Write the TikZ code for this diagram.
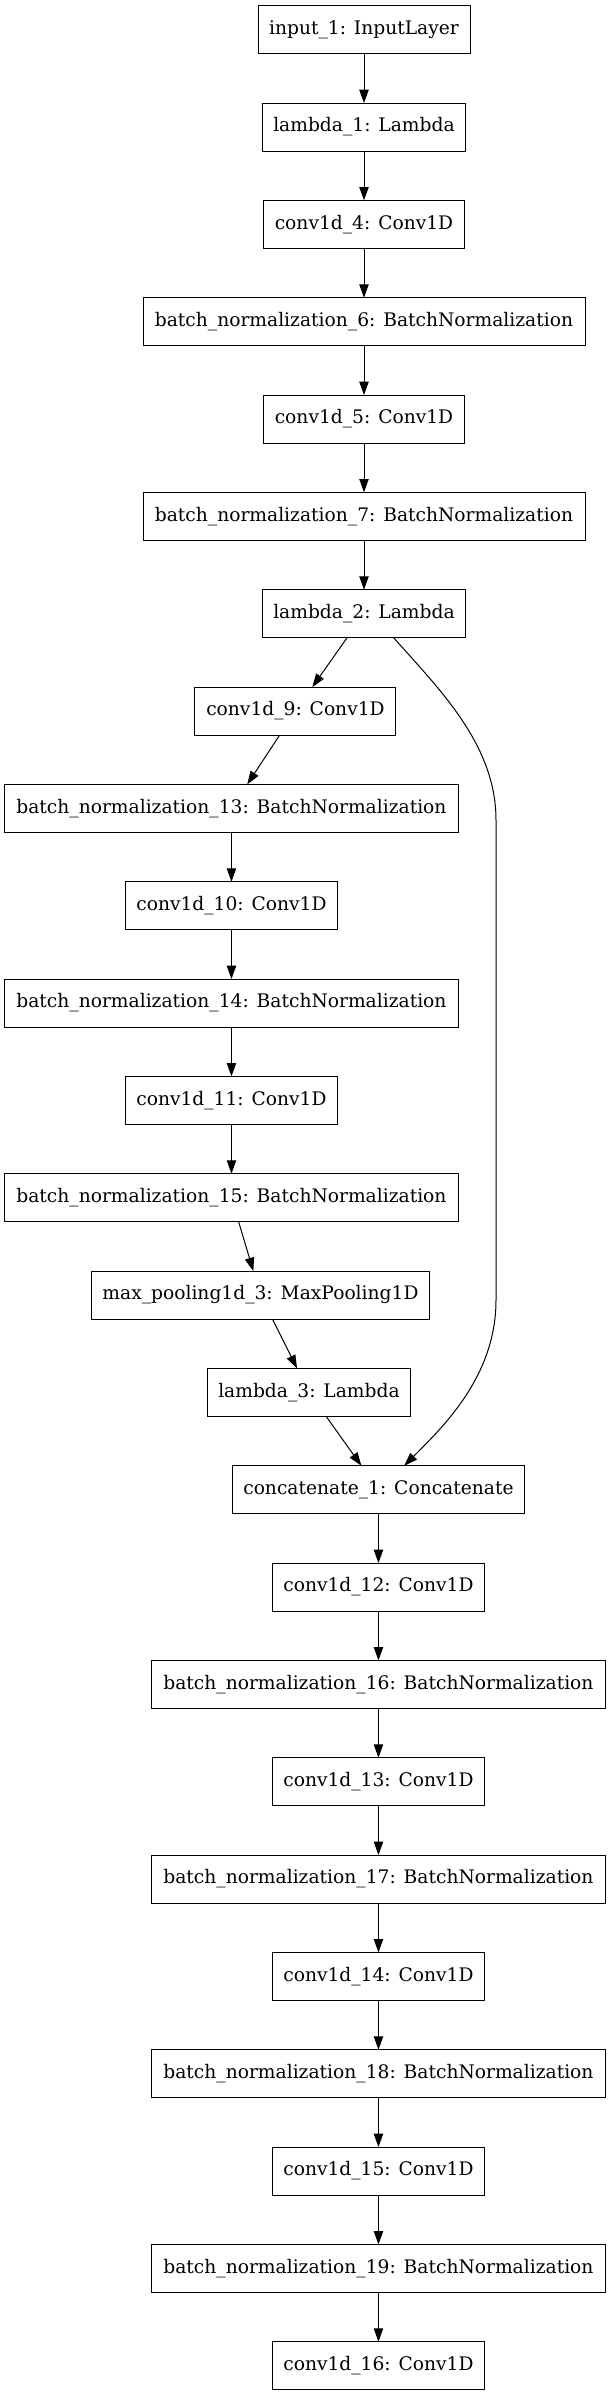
\documentclass[tikz,border=0pt]{standalone}
\usepackage{fontspec}
\setmainfont{DejaVu Serif}
\usetikzlibrary{arrows.meta,positioning}

\begin{document}
\begin{tikzpicture}[x=0.75pt,y=0.75pt,>={Triangle[length=10pt,width=7pt]},node distance=37pt,
  font=\fontsize{14}{17}\selectfont,line width=0.75pt,
  layer/.style={draw,minimum height=36pt,inner sep=0pt,outer sep=0pt},
  convbox/.style={layer,minimum width=150.75pt},
  convwide/.style={layer,minimum width=159pt},
  lambox/.style={layer,minimum width=152pt},
  bnbox/.style={layer,minimum width=331.5pt},
  bnwide/.style={layer,minimum width=340.5pt}]
\useasboundingbox (0,0) rectangle (608,-2396);
\node[layer,minimum width=159pt] (input1) at (364,-29.7) {input\_1: InputLayer};
\node[lambox,below=of input1] (lambda1) {lambda\_1: Lambda};
\node[convbox,below=of lambda1] (conv4) {conv1d\_4: Conv1D};
\node[bnbox,below=of conv4] (bn6) {batch\_normalization\_6: BatchNormalization};
\node[convbox,below=of bn6] (conv5) {conv1d\_5: Conv1D};
\node[bnbox,below=of conv5] (bn7) {batch\_normalization\_7: BatchNormalization};
\node[lambox,below=of bn7] (lambda2) {lambda\_2: Lambda};
% left branch
\node[convbox,below=of lambda2,xshift=-51.4pt] (conv9) {conv1d\_9: Conv1D};
\node[bnwide,below=of conv9,xshift=-48pt] (bn13) {batch\_normalization\_13: BatchNormalization};
\node[convwide,below=of bn13] (conv10) {conv1d\_10: Conv1D};
\node[bnwide,below=of conv10] (bn14) {batch\_normalization\_14: BatchNormalization};
\node[convwide,below=of bn14] (conv11) {conv1d\_11: Conv1D};
\node[bnwide,below=of conv11] (bn15) {batch\_normalization\_15: BatchNormalization};
\node[layer,minimum width=253.5pt,below=of bn15,xshift=21.75pt] (maxpool3) {max\_pooling1d\_3: MaxPooling1D};
\node[lambox,below=of maxpool3,xshift=36.4pt] (lambda3) {lambda\_3: Lambda};
\node[layer,minimum width=219pt,below=of lambda3,xshift=52.1pt] (concat1) {concatenate\_1: Concatenate};
% tail
\node[convwide,below=of concat1] (conv12) {conv1d\_12: Conv1D};
\node[bnwide,below=of conv12] (bn16) {batch\_normalization\_16: BatchNormalization};
\node[convwide,below=of bn16] (conv13) {conv1d\_13: Conv1D};
\node[bnwide,below=of conv13] (bn17) {batch\_normalization\_17: BatchNormalization};
\node[convwide,below=of bn17] (conv14) {conv1d\_14: Conv1D};
\node[bnwide,below=of conv14] (bn18) {batch\_normalization\_18: BatchNormalization};
\node[convwide,below=of bn18] (conv15) {conv1d\_15: Conv1D};
\node[bnwide,below=of conv15] (bn19) {batch\_normalization\_19: BatchNormalization};
\node[convwide,below=of bn19] (conv16) {conv1d\_16: Conv1D};
\draw[->] (input1)--(lambda1); \draw[->] (lambda1)--(conv4);
\draw[->] (conv4)--(bn6); \draw[->] (bn6)--(conv5);
\draw[->] (conv5)--(bn7); \draw[->] (bn7)--(lambda2);
\draw[->] (lambda2)--(conv9); \draw[->] (conv9)--(bn13);
\draw[->] (bn13)--(conv10); \draw[->] (conv10)--(bn14);
\draw[->] (bn14)--(conv11); \draw[->] (conv11)--(bn15);
\draw[->] (bn15)--(maxpool3); \draw[->] (maxpool3)--(lambda3);
\draw[->] (lambda3)--(concat1); \draw[->] (concat1)--(conv12);
\draw[->] (conv12)--(bn16); \draw[->] (bn16)--(conv13);
\draw[->] (conv13)--(bn17); \draw[->] (bn17)--(conv14);
\draw[->] (conv14)--(bn18); \draw[->] (bn18)--(conv15);
\draw[->] (conv15)--(bn19); \draw[->] (bn19)--(conv16);
% skip connection
\coordinate (skiptop) at (496,-820);
\coordinate (skipbot) at (496,-1300);
\draw[->] (lambda2.-39) .. controls (440,-690) and (496,-745) .. (skiptop) -- (skipbot)
  .. controls (496,-1375) and (445,-1425) .. (concat1.43);
\end{tikzpicture}
\end{document}
